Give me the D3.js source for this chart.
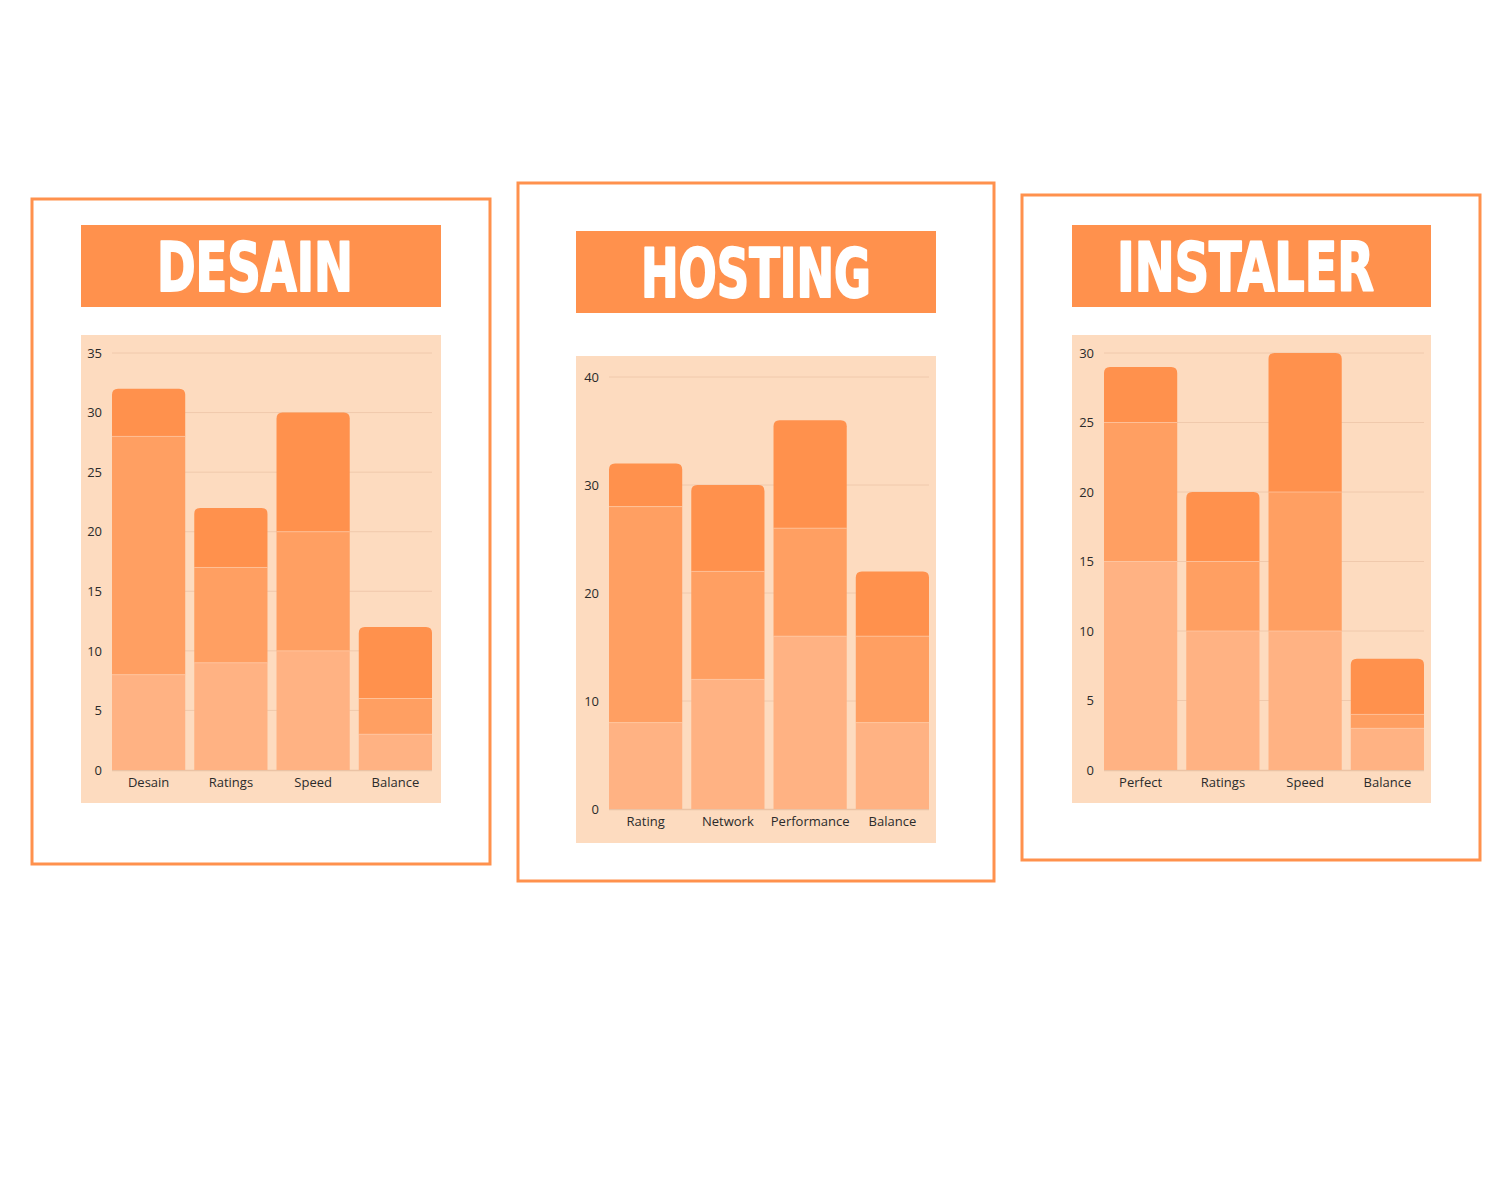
<!DOCTYPE html>
<html>
<head>
<meta charset="utf-8">
<script src="https://cdn.jsdelivr.net/npm/d3@7/dist/d3.min.js"></script>
<style>
  html, body { margin: 0; padding: 0; background: #ffffff; }
  svg { display: block; }
</style>
</head>
<body>
<svg id="chart" width="1512" height="1200"></svg>
<script>
// ---------- DATA ----------
const titles = ["DESAIN", "HOSTING", "INSTALER"];

const categoriesDesain   = ["Desain", "Ratings", "Speed", "Balance"];
const categoriesHosting  = ["Rating", "Network", "Performance", "Balance"];
const categoriesInstaler = ["Perfect", "Ratings", "Speed", "Balance"];

// stacked segments: bottom, middle, top
const desainBottom = [8, 9, 10, 3];
const desainMiddle = [20, 8, 10, 3];
const desainTop    = [4, 5, 10, 6];

const hostingBottom = [8, 12, 16, 8];
const hostingMiddle = [20, 10, 10, 8];
const hostingTop    = [4, 8, 10, 6];

const instalerBottom = [15, 10, 10, 3];
const instalerMiddle = [10, 5, 10, 1];
const instalerTop    = [4, 5, 10, 4];

const ticksDesain   = [0, 5, 10, 15, 20, 25, 30, 35];
const ticksHosting  = [0, 10, 20, 30, 40];
const ticksInstaler = [0, 5, 10, 15, 20, 25, 30];

// ---------- STYLE ----------
const ORANGE = "#FF914D";
const MID = "#FF9F62";
const LIGHT = "#FFB283";
const BG = "#FDDBBF";
const GRID = "#F0C9AC";
const segColors = [LIGHT, MID, ORANGE];

const panels = [
  { title: titles[0], cats: categoriesDesain, series: [desainBottom, desainMiddle, desainTop], ticks: ticksDesain,
    box: [32, 199, 490, 864], banner: [81, 225, 441, 307], titleX: 255, titleW: 196, bg: [81, 335, 441, 803],
    plotX: [112, 432], plotY: [770, 353], labelPad: 8, tickX: 102 },
  { title: titles[1], cats: categoriesHosting, series: [hostingBottom, hostingMiddle, hostingTop], ticks: ticksHosting,
    box: [518, 183, 994, 881], banner: [576, 231, 936, 313], titleX: 756, titleW: 230, bg: [576, 356, 936, 843],
    plotX: [609, 929], plotY: [809, 377], labelPad: 8, tickX: 599 },
  { title: titles[2], cats: categoriesInstaler, series: [instalerBottom, instalerMiddle, instalerTop], ticks: ticksInstaler,
    box: [1022, 195, 1480, 860], banner: [1072, 225, 1431, 307], titleX: 1245.5, titleW: 257, bg: [1072, 335, 1431, 803],
    plotX: [1104, 1424], plotY: [770, 353], labelPad: 8, tickX: 1094 }
];

const svg = d3.select("#chart");

function roundedTop(x, y, w, h, r) {
  r = Math.min(r, h, w / 2);
  return `M${x},${y + h}V${y + r}Q${x},${y} ${x + r},${y}H${x + w - r}Q${x + w},${y} ${x + w},${y + r}V${y + h}Z`;
}

panels.forEach(p => {
  const g = svg.append("g");

  // outer border
  g.append("rect")
    .attr("x", p.box[0]).attr("y", p.box[1])
    .attr("width", p.box[2] - p.box[0]).attr("height", p.box[3] - p.box[1])
    .attr("fill", "#fff").attr("stroke", ORANGE).attr("stroke-width", 3);

  // banner
  g.append("rect")
    .attr("x", p.banner[0]).attr("y", p.banner[1])
    .attr("width", p.banner[2] - p.banner[0]).attr("height", p.banner[3] - p.banner[1])
    .attr("fill", ORANGE);

  g.append("text")
    .attr("x", p.titleX)
    .attr("y", p.banner[1] + 66)
    .attr("text-anchor", "middle")
    .attr("font-family", "'Liberation Sans Narrow', 'DejaVu Sans Condensed', 'Liberation Sans', sans-serif")
    .attr("font-weight", "bold")
    .attr("font-size", 67)
    .attr("fill", "#fff")
    .attr("stroke", "#fff").attr("stroke-width", 2).attr("stroke-linejoin", "round")
    .attr("textLength", p.titleW)
    .attr("lengthAdjust", "spacingAndGlyphs")
    .text(p.title);

  // chart background
  g.append("rect")
    .attr("x", p.bg[0]).attr("y", p.bg[1])
    .attr("width", p.bg[2] - p.bg[0]).attr("height", p.bg[3] - p.bg[1])
    .attr("fill", BG);

  const maxTick = p.ticks[p.ticks.length - 1];
  const y = d3.scaleLinear().domain([0, maxTick]).range(p.plotY);
  const x = d3.scaleBand().domain(p.cats).range(p.plotX).paddingInner(0.11).paddingOuter(0);

  // gridlines
  g.append("g").selectAll("line").data(p.ticks.filter(t => t > 0)).join("line")
    .attr("x1", p.plotX[0]).attr("x2", p.plotX[1])
    .attr("y1", d => y(d)).attr("y2", d => y(d))
    .attr("stroke", GRID).attr("stroke-width", 1);

  // baseline
  g.append("line")
    .attr("x1", p.plotX[0]).attr("x2", p.plotX[1])
    .attr("y1", y(0) + 0.5).attr("y2", y(0) + 0.5)
    .attr("stroke", "#EBC3A5").attr("stroke-width", 1.5);

  // y axis labels
  const yAxis = d3.axisLeft(y).tickValues(p.ticks).tickSize(0).tickPadding(0).tickFormat(d3.format("d"));
  const ya = g.append("g").attr("transform", `translate(${p.tickX},0)`).call(yAxis);
  ya.select(".domain").remove();
  ya.selectAll("text")
    .attr("font-family", "'Open Sans', sans-serif")
    .attr("font-size", 13)
    .attr("fill", "#2b2b2b");

  // stacked bars
  const stackData = p.cats.map((c, i) => ({ cat: c, s0: p.series[0][i], s1: p.series[1][i], s2: p.series[2][i] }));
  const stack = d3.stack().keys(["s0", "s1", "s2"])(stackData);

  stack.forEach((layer, li) => {
    const lg = g.append("g");
    layer.forEach(d => {
      const cat = d.data.cat;
      const x0 = x(cat), w = x.bandwidth();
      const yTop = y(d[1]), yBot = y(d[0]);
      const h = yBot - yTop;
      if (h <= 0) return;
      if (li === 2) {
        lg.append("path").attr("d", roundedTop(x0, yTop, w, h, 6)).attr("fill", segColors[li]);
      } else {
        lg.append("rect").attr("x", x0).attr("y", yTop).attr("width", w).attr("height", h).attr("fill", segColors[li]);
      }
      if (li > 0) {
        lg.append("line")
          .attr("x1", x0).attr("x2", x0 + w)
          .attr("y1", yBot).attr("y2", yBot)
          .attr("stroke", "#FFD2B4").attr("stroke-width", 1).attr("stroke-opacity", 0.6);
      }
    });
  });

  // x axis labels
  const xAxis = d3.axisBottom(x).tickSize(0).tickPadding(p.labelPad);
  const xa = g.append("g").attr("transform", `translate(0,${y(0)})`).call(xAxis);
  xa.select(".domain").remove();
  xa.selectAll("text")
    .attr("font-family", "'Open Sans', sans-serif")
    .attr("font-size", 13)
    .attr("fill", "#2b2b2b");
});
</script>
</body>
</html>
